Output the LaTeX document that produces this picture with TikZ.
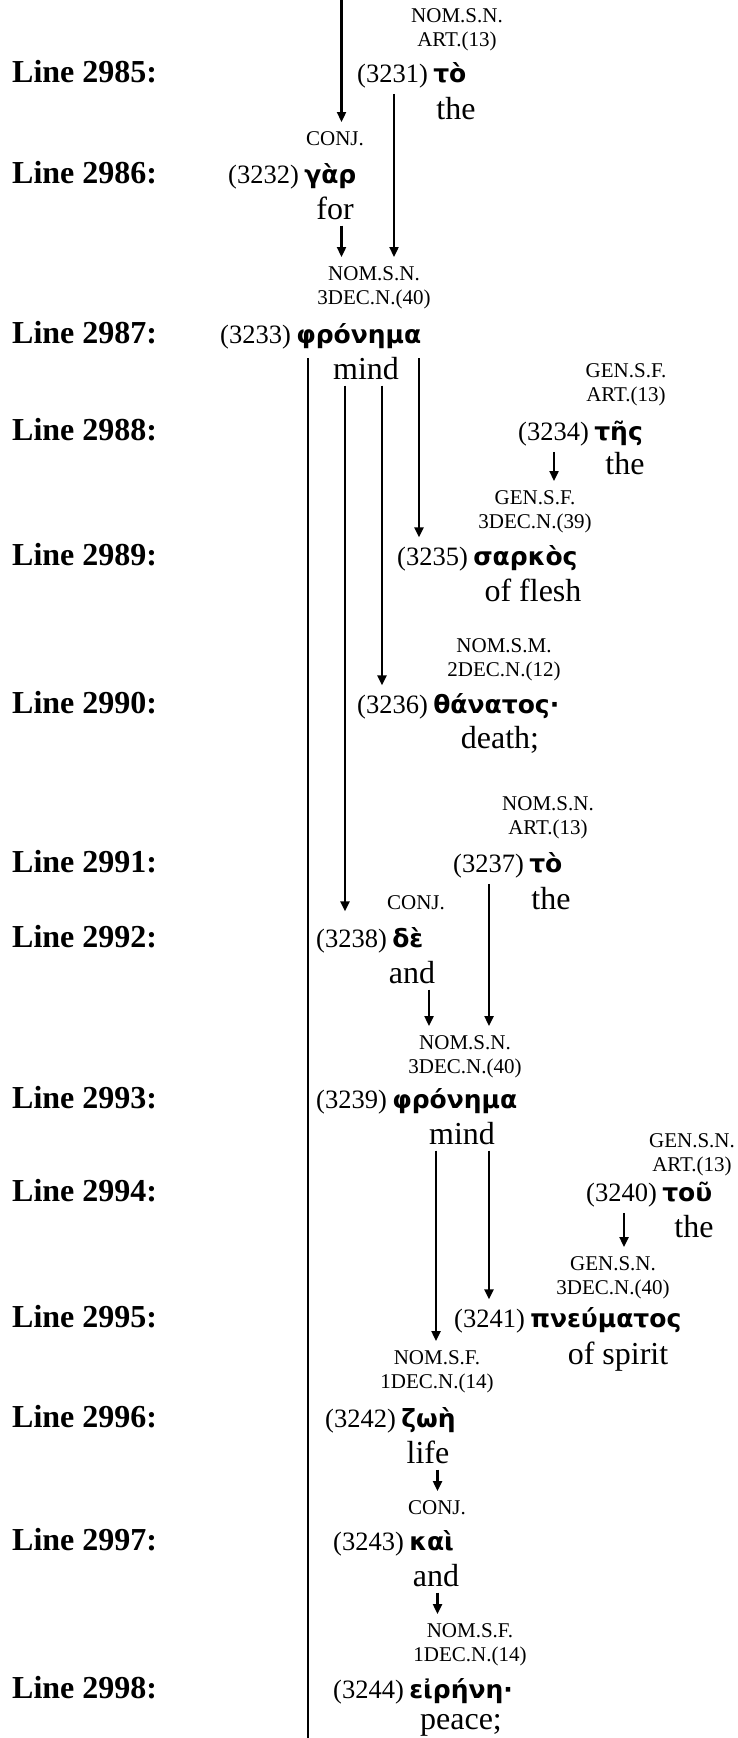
\documentclass[tikz,border=0pt]{standalone}
\usepackage{fontspec}
\setmainfont{Liberation Serif}
\newfontfamily\grkfont{DejaVu Sans}
\usetikzlibrary{arrows.meta,positioning}

\begin{document}
\begin{tikzpicture}[x=1pt,y=-1pt,inner sep=2pt,
  linelbl/.style={anchor=base west,font=\fontsize{32}{36}\selectfont\bfseries},
  num/.style={anchor=base west,font=\fontsize{26.5}{30}\selectfont},
  gk/.style={anchor=base west,font=\grkfont\bfseries\fontsize{25}{30}\selectfont},
  morph/.style={anchor=north,align=center,font=\fontsize{21}{24.5}\selectfont},
  gloss/.style={anchor=base,font=\fontsize{32}{36}\selectfont},
  arr/.style={-{Triangle[length=10pt,width=9pt]},line width=2.3pt,shorten <=4pt,shorten >=7pt}]
\useasboundingbox (0,0) rectangle (738,1738);
\node[linelbl] (L2985) at (10,82) {Line 2985:};
\node[linelbl] (L2986) at (10,183) {Line 2986:};
\node[linelbl] (L2987) at (10,343) {Line 2987:};
\node[linelbl] (L2988) at (10,440) {Line 2988:};
\node[linelbl] (L2989) at (10,565) {Line 2989:};
\node[linelbl] (L2990) at (10,713) {Line 2990:};
\node[linelbl] (L2991) at (10,872) {Line 2991:};
\node[linelbl] (L2992) at (10,947) {Line 2992:};
\node[linelbl] (L2993) at (10,1108) {Line 2993:};
\node[linelbl] (L2994) at (10,1201) {Line 2994:};
\node[linelbl] (L2995) at (10,1327) {Line 2995:};
\node[linelbl] (L2996) at (10,1427) {Line 2996:};
\node[linelbl] (L2997) at (10,1550) {Line 2997:};
\node[linelbl] (L2998) at (10,1698) {Line 2998:};
%
\node[num] (n3231) at (355,82) {(3231)};
\node[right=1pt of n3231.base east,gk] (g3231) {τὸ};
\node[morph] (m3231) at (457,6) {NOM.S.N.\\ART.(13)};
\node[gloss] (t3231) at (456,119) {the};
\node[num] (n3232) at (226,183) {(3232)};
\node[right=1pt of n3232.base east,gk] (g3232) {γὰρ};
\node[morph] (m3232) at (335,129) {CONJ.};
\node[gloss] (t3232) at (335,219) {for};
\node[num] (n3233) at (218,343) {(3233)};
\node[right=1pt of n3233.base east,gk] (g3233) {φρόνημα};
\node[morph] (m3233) at (374,264) {NOM.S.N.\\3DEC.N.(40)};
\node[gloss] (t3233) at (366,379) {mind};
\node[num] (n3234) at (516,440) {(3234)};
\node[right=1pt of n3234.base east,gk] (g3234) {τῆς};
\node[morph] (m3234) at (626,361) {GEN.S.F.\\ART.(13)};
\node[gloss] (t3234) at (625,474) {the};
\node[num] (n3235) at (395,565) {(3235)};
\node[right=1pt of n3235.base east,gk] (g3235) {σαρκὸς};
\node[morph] (m3235) at (535,488) {GEN.S.F.\\3DEC.N.(39)};
\node[gloss] (t3235) at (533,601) {of flesh};
\node[num] (n3236) at (355,713) {(3236)};
\node[right=1pt of n3236.base east,gk] (g3236) {θάνατος·};
\node[morph] (m3236) at (504,636) {NOM.S.M.\\2DEC.N.(12)};
\node[gloss] (t3236) at (500,748) {death;};
\node[num] (n3237) at (451,872) {(3237)};
\node[right=1pt of n3237.base east,gk] (g3237) {τὸ};
\node[morph] (m3237) at (548,794) {NOM.S.N.\\ART.(13)};
\node[gloss] (t3237) at (551,909) {the};
\node[num] (n3238) at (314,947) {(3238)};
\node[right=1pt of n3238.base east,gk] (g3238) {δὲ};
\node[morph] (m3238) at (416,893) {CONJ.};
\node[gloss] (t3238) at (412,983) {and};
\node[num] (n3239) at (314,1108) {(3239)};
\node[right=1pt of n3239.base east,gk] (g3239) {φρόνημα};
\node[morph] (m3239) at (465,1033) {NOM.S.N.\\3DEC.N.(40)};
\node[gloss] (t3239) at (462,1144) {mind};
\node[num] (n3240) at (584,1201) {(3240)};
\node[right=1pt of n3240.base east,gk] (g3240) {τοῦ};
\node[morph] (m3240) at (692,1131) {GEN.S.N.\\ART.(13)};
\node[gloss] (t3240) at (694,1237) {the};
\node[num] (n3241) at (452,1327) {(3241)};
\node[right=1pt of n3241.base east,gk] (g3241) {πνεύματος};
\node[morph] (m3241) at (613,1254) {GEN.S.N.\\3DEC.N.(40)};
\node[gloss] (t3241) at (618,1364) {of spirit};
\node[num] (n3242) at (323,1427) {(3242)};
\node[right=1pt of n3242.base east,gk] (g3242) {ζωὴ};
\node[morph] (m3242) at (437,1348) {NOM.S.F.\\1DEC.N.(14)};
\node[gloss] (t3242) at (428,1463) {life};
\node[num] (n3243) at (331,1550) {(3243)};
\node[right=1pt of n3243.base east,gk] (g3243) {καὶ};
\node[morph] (m3243) at (437,1498) {CONJ.};
\node[gloss] (t3243) at (436,1586) {and};
\node[num] (n3244) at (331,1698) {(3244)};
\node[right=1pt of n3244.base east,gk] (g3244) {εἰρήνη·};
\node[morph] (m3244) at (470,1621) {NOM.S.F.\\1DEC.N.(14)};
\node[gloss] (t3244) at (461,1729) {peace;};
%
\coordinate (top) at (341.5,0);
\coordinate (bot) at (308,1738);
\coordinate (A1) at (394,0);
\coordinate (A2) at (341.5,0);
\coordinate (B2) at (345,0);
\coordinate (B3) at (382,0);
\coordinate (B4) at (419,0);
\coordinate (C1) at (554,0);
\coordinate (D1) at (489,0);
\coordinate (D2) at (429,0);
\coordinate (E1) at (436,0);
\coordinate (E2) at (489,0);
\coordinate (F1) at (624,0);
\coordinate (G1) at (437.5,0);
\draw[arr,shorten <=0pt] (top) -- (top |- m3232.north);
\draw[arr] (n3231.south -| A1) -- (A1 |- m3233.north);
\draw[arr] (t3232.south -| A2) -- (A2 |- m3233.north);
\draw[line width=2.3pt,shorten <=8pt] (g3233.south -| bot) -- (bot);
\draw[arr,shorten <=8pt] (g3233.south -| B4) -- (B4 |- n3235.north);
\draw[arr] (t3233.south -| B3) -- (B3 |- n3236.north);
\draw[arr,shorten >=15pt] (t3233.south -| B2) -- (B2 |- n3238.north);
\draw[arr] (n3234.south -| C1) -- (C1 |- m3235.north);
\draw[arr] (n3237.south -| D1) -- (D1 |- m3239.north);
\draw[arr] (t3238.south -| D2) -- (D2 |- m3239.north);
\draw[arr] (t3239.south -| E1) -- (E1 |- m3242.north);
\draw[arr] (t3239.south -| E2) -- (E2 |- n3241.north);
\draw[arr] (n3240.south -| F1) -- (F1 |- m3241.north);
\draw[arr] (t3242.south -| G1) -- (G1 |- m3243.north);
\draw[arr] (t3243.south -| G1) -- (G1 |- m3244.north);
\end{tikzpicture}
\end{document}
